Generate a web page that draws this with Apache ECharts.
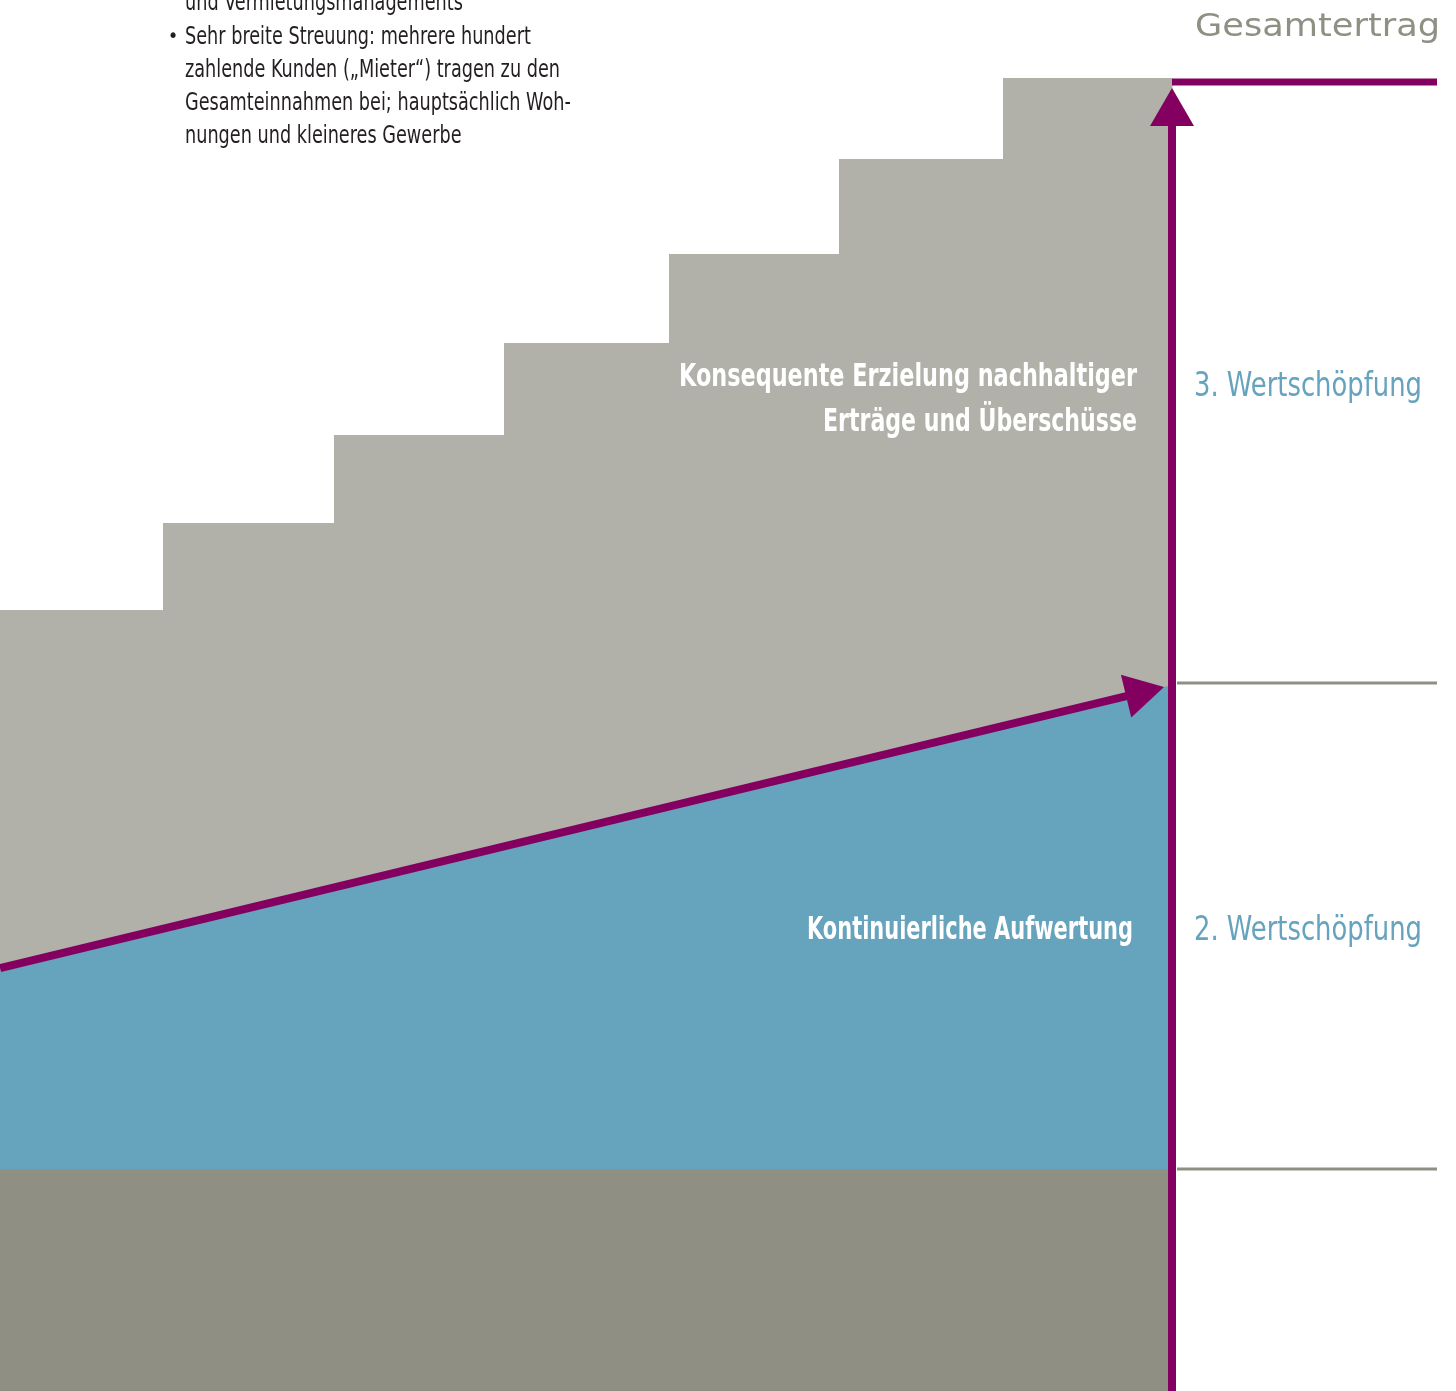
<!DOCTYPE html>
<html><head><meta charset="utf-8">
<script src="https://cdn.jsdelivr.net/npm/echarts@6/dist/echarts.min.js"></script>
<style>html,body{margin:0;padding:0;background:#fff}#c{width:1456px;height:1391px}</style>
</head><body><div id="c"></div>
<script>
// ---- data (x: development over time, y: Ertrag level) ----
const stepEdges = [0, 163, 334, 504, 669, 839, 1003, 1172];
const stepLevels = [781, 868, 956, 1048, 1137, 1232, 1313];
const baseLevel = 222;
const upgradeX = [0, 1168];
const upgradeLevels = [419, 705];
const upgradeArrowX = [0, 1164];
const upgradeArrowLevels = [423, 704];
const totalAxisX = 1172;
const totalArrowLevel = 1303;
const totalLevel = 1309;
const totalLineX = [1172, 1437];
const guideLevels = [708, 222];
const guideX = [1177, 1437];

const stageLabels = ['3. Wertschöpfung', '2. Wertschöpfung'];
const areaLabels = [['Konsequente Erzielung nachhaltiger', 'Erträge und Überschüsse'], ['Kontinuierliche Aufwertung']];
const titleText = 'Gesamtertrag';
const noteLines = ['und Vermietungsmanagements', 'Sehr breite Streuung: mehrere hundert', 'zahlende Kunden (\u201eMieter\u201c) tragen zu den', 'Gesamteinnahmen bei; hauptsächlich Woh-', 'nungen und kleineres Gewerbe'];

const C_STEP = '#b1b1a9', C_BLUE = '#66a3bd', C_BASE = '#8f8f84', C_PURPLE = '#830061';
const NARROW = '"Liberation Sans Narrow", "DejaVu Sans Condensed", "DejaVu Sans", sans-serif';

// horizontal fit helper for the condensed typeface of the original
const mctx = document.createElement('canvas').getContext('2d');
function fit(text, font, targetW) { mctx.font = font; return targetW / mctx.measureText(text).width; }

function arrowShape(api, x0, y0, x1, y1, lw, headL, headW, withHead) {
  const a = api.coord([x0, y0]), b = api.coord([x1, y1]);
  const dx = b[0] - a[0], dy = b[1] - a[1];
  const len = Math.sqrt(dx * dx + dy * dy);
  const ux = dx / len, uy = dy / len, px = -uy, py = ux;
  const children = [];
  const endx = withHead ? b[0] - ux * headL * 0.8 : b[0];
  const endy = withHead ? b[1] - uy * headL * 0.8 : b[1];
  children.push({type: 'line', shape: {x1: a[0], y1: a[1], x2: endx, y2: endy}, style: {stroke: C_PURPLE, lineWidth: lw}});
  if (withHead) {
    const bx = b[0] - ux * headL, by = b[1] - uy * headL;
    children.push({type: 'polygon', shape: {points: [[b[0], b[1]], [bx + px * headW / 2, by + py * headW / 2], [bx - px * headW / 2, by - py * headW / 2]]}, style: {fill: C_PURPLE}});
  }
  return {type: 'group', children};
}

const F_TITLE = '32px "DejaVu Sans", sans-serif';
const F_STAGE = '34px ' + NARROW;
const F_AREA = 'bold 32px ' + NARROW;
const F_NOTE = '24px ' + NARROW;
const noteScale = fit(noteLines[2], F_NOTE, 375);

function txt(text, font, x, y, align, fill, targetW, scaleX) {
  return {type: 'text', z: 10, x, y, scaleX: scaleX != null ? scaleX : fit(text, font, targetW),
    style: {text, font, fill, align, verticalAlign: 'middle'}};
}

const chart = echarts.init(document.getElementById('c'), null, {renderer: 'canvas'});
const option = {
  animation: false,
  grid: {left: 0, right: 0, top: 0, bottom: 0, outerBoundsMode: 'none'},
  xAxis: {type: 'value', min: 0, max: 1456, show: false},
  yAxis: {type: 'value', min: 0, max: 1391, show: false},
  series: [
    {
      type: 'custom', name: 'Erträge', z: 1,
      data: stepLevels.map((v, i) => [stepEdges[i], stepEdges[i + 1], v]),
      renderItem: (params, api) => {
        const p0 = api.coord([api.value(0), api.value(2)]);
        const p1 = api.coord([api.value(1), 0]);
        return {type: 'rect', shape: {x: p0[0], y: p0[1], width: p1[0] - p0[0] + 0.5, height: p1[1] - p0[1]}, style: {fill: C_STEP}};
      }
    },
    {
      type: 'custom', name: 'Aufwertung', z: 2,
      data: [[upgradeX[0], upgradeLevels[0], upgradeX[1], upgradeLevels[1]]],
      renderItem: (params, api) => {
        const x0 = api.value(0), y0 = api.value(1), x1 = api.value(2), y1 = api.value(3);
        const pts = [[x0, baseLevel], [x0, y0], [x1, y1], [x1, baseLevel]].map(p => api.coord(p));
        return {type: 'polygon', shape: {points: pts}, style: {fill: C_BLUE}};
      }
    },
    {
      type: 'custom', name: 'Basis', z: 3,
      data: [[0, totalAxisX, baseLevel]],
      renderItem: (params, api) => {
        const p0 = api.coord([api.value(0), api.value(2)]);
        const p1 = api.coord([api.value(1), 0]);
        return {type: 'rect', shape: {x: p0[0], y: p0[1], width: p1[0] - p0[0], height: p1[1] - p0[1]}, style: {fill: C_BASE}};
      }
    },
    {
      type: 'custom', name: 'Stufen', z: 4,
      data: guideLevels.map(v => [guideX[0], guideX[1], v]),
      renderItem: (params, api) => {
        const a = api.coord([api.value(0), api.value(2)]), b = api.coord([api.value(1), api.value(2)]);
        return {type: 'line', shape: {x1: a[0], y1: a[1], x2: b[0], y2: b[1]}, style: {stroke: C_BASE, lineWidth: 3}};
      }
    },
    {
      type: 'custom', name: 'Aufwertungspfeil', z: 5,
      data: [[upgradeArrowX[0], upgradeArrowLevels[0], upgradeArrowX[1], upgradeArrowLevels[1]]],
      renderItem: (params, api) => arrowShape(api, api.value(0), api.value(1), api.value(2), api.value(3), 8, 39, 44, true)
    },
    {
      type: 'custom', name: 'Gesamtpfeil', z: 6,
      data: [[totalAxisX, 0, totalAxisX, totalArrowLevel]],
      renderItem: (params, api) => arrowShape(api, api.value(0), api.value(1), api.value(2), api.value(3), 8, 38, 44, true)
    },
    {
      type: 'custom', name: 'Gesamtlinie', z: 6,
      data: [[totalLineX[0], totalLevel, totalLineX[1], totalLevel]],
      renderItem: (params, api) => arrowShape(api, api.value(0), api.value(1), api.value(2), api.value(3), 7, 0, 0, false)
    }
  ],
  graphic: [
    txt(titleText, F_TITLE, 1195, 28, 'left', C_BASE, 245),
    txt(stageLabels[0], F_STAGE, 1194, 387, 'left', C_BLUE, 228),
    txt(stageLabels[1], F_STAGE, 1194, 931, 'left', C_BLUE, 228),
    txt(areaLabels[0][0], F_AREA, 1137, 378, 'right', '#fff', 458),
    txt(areaLabels[0][1], F_AREA, 1137, 423, 'right', '#fff', 314),
    txt(areaLabels[1][0], F_AREA, 1133, 931, 'right', '#fff', 326),
    {type: 'text', z: 10, x: 173, y: 37, style: {text: '\u2022', font: '20px ' + NARROW, fill: '#231f20', align: 'center', verticalAlign: 'middle'}}
  ].concat(noteLines.map((t, i) => txt(t, F_NOTE, 185, 4 + i * 33.3, 'left', '#231f20', 0, noteScale)))
};
chart.setOption(option);
</script></body></html>
